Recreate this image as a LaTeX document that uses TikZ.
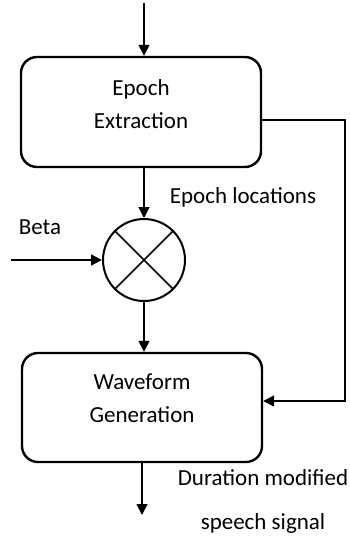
\documentclass[tikz,border=0pt]{standalone}
\usepackage{fontspec}
\setmainfont{Carlito}
\usetikzlibrary{arrows.meta}
\begin{document}
\begin{tikzpicture}[x=1pt,y=-1pt,
  block/.style={draw,line width=2.4pt,rounded corners=16pt,inner sep=0pt},
  wire/.style={line width=1.5pt},
  arr/.style={wire,-{Triangle[length=11pt,width=11pt]}},
  lbl/.style={font=\fontsize{23}{33}\selectfont,align=center,inner sep=0pt},
  mixer/.style={draw,circle,line width=2pt,minimum size=82pt,inner sep=0pt}]
\useasboundingbox (0,0) rectangle (350,550);

% blocks
\node[block,minimum width=240pt,minimum height=110pt] (ee) at (141,112) {};
\node[lbl] (eet) at (141,104) {Epoch\\Extraction};
\node[mixer] (mx) at (144,260) {};
\draw[line width=1.5pt] (mx.north west) -- (mx.south east) (mx.north east) -- (mx.south west);
\node[block,minimum width=240pt,minimum height=109pt] (wg) at (142,407.5) {};
\node[lbl] (wgt) at (142,398) {Waveform\\Generation};

% labels
\node[lbl] (loc) at (243,197) {Epoch locations};
\node[lbl] (beta) at (40,227) {Beta};
\node[lbl,font=\fontsize{23}{44}\selectfont] (out) at (263,501) {Duration modified\\speech signal};

% free ends
\coordinate (in) at (144,3);
\coordinate (bin) at (11,260);
\coordinate (sig) at (142,515);
\coordinate (fbA) at (ee.east |- 0,120);
\coordinate (fbB) at (wg.east |- 0,401);

% connectors
\draw[arr] (in) -- (in |- ee.north);
\draw[arr] (ee.south -| mx.north) -- (mx.north);
\draw[arr] (bin) -- (mx.west);
\draw[arr] (mx.south) -- (mx.south |- wg.north);
\draw[arr] (wg.south -| sig) -- (sig);
\draw[arr] (fbA) -- (345,120) -- (345,401) -- (fbB);
\end{tikzpicture}
\end{document}
